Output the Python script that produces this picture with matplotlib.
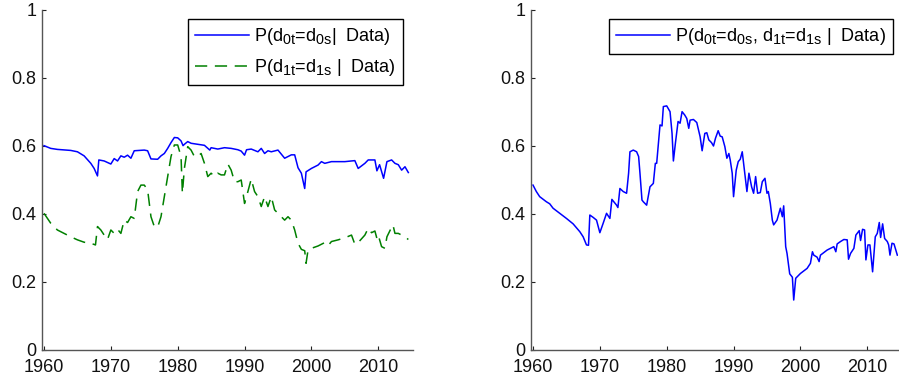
import matplotlib
matplotlib.use("Agg")
import matplotlib.pyplot as plt
try:
    import matplotlib._mathtext as _mt
    _mt.SHRINK_FACTOR = 0.8
    _mt.FontConstantsBase.sub1 = 0.35
    _mt.FontConstantsBase.sub2 = 0.55
except Exception:
    pass

plt.rcParams['font.family'] = ['Liberation Sans', 'DejaVu Sans']
plt.rcParams['mathtext.default'] = 'regular'

# ---- Left panel: P(d0t=d0s | Data) ----
yr_d0 = [1960, 1961, 1962, 1964, 1965, 1966, 1967, 1967.5, 1968, 1968.2, 1969, 1970, 1970.5, 1971,
         1971.5, 1972, 1972.5, 1973, 1973.5, 1975, 1975.5, 1976, 1977, 1977.5, 1978, 1978.5, 1979,
         1979.5, 1980, 1980.5, 1980.8, 1981, 1981.5, 1982, 1983, 1984, 1984.8, 1985, 1986, 1987,
         1988, 1989, 1989.5, 1990, 1990.3, 1991, 1992, 1992.5, 1993, 1993.5, 1994, 1995, 1995.5,
         1996, 1997, 1997.5, 1998, 1998.5, 1999, 1999.2, 2000, 2001, 2001.5, 2002, 2003, 2005,
         2006.5, 2007, 2008, 2008.5, 2009.5, 2009.8, 2010.2, 2010.8, 2011.3, 2012, 2012.5, 2013,
         2013.5, 2014, 2014.5]
p_d0 = [0.601, 0.593, 0.590, 0.587, 0.583, 0.571, 0.549, 0.534, 0.512, 0.559, 0.556, 0.547, 0.563,
        0.556, 0.571, 0.567, 0.573, 0.564, 0.586, 0.588, 0.586, 0.562, 0.561, 0.571, 0.578, 0.593,
        0.610, 0.625, 0.624, 0.615, 0.601, 0.605, 0.613, 0.608, 0.605, 0.602, 0.588, 0.595, 0.591,
        0.595, 0.593, 0.589, 0.585, 0.573, 0.589, 0.591, 0.583, 0.593, 0.578, 0.586, 0.583, 0.588,
        0.576, 0.564, 0.574, 0.574, 0.536, 0.520, 0.475, 0.524, 0.534, 0.544, 0.554, 0.549, 0.554,
        0.554, 0.557, 0.534, 0.549, 0.559, 0.559, 0.527, 0.545, 0.505, 0.554, 0.559, 0.549, 0.545,
        0.529, 0.539, 0.522]

# ---- Left panel: P(d1t=d1s | Data) ----
yr_d1 = [1960, 1961, 1962, 1963, 1964, 1965, 1966, 1967, 1967.7, 1968, 1968.5, 1969, 1969.5, 1970,
         1970.5, 1971, 1971.5, 1972, 1972.5, 1973, 1973.5, 1974, 1974.5, 1975, 1975.5, 1976,
         1976.5, 1977, 1977.5, 1978, 1978.5, 1979, 1979.5, 1980, 1980.5, 1980.7, 1981, 1981.5,
         1982, 1982.5, 1983, 1983.5, 1984, 1984.5, 1985, 1985.5, 1986, 1986.5, 1987, 1987.5,
         1988, 1988.5, 1989, 1989.5, 1990, 1990.5, 1991, 1991.5, 1992, 1992.5, 1993, 1993.5,
         1994, 1994.5, 1995, 1995.5, 1996, 1996.5, 1997, 1997.5, 1998, 1998.5, 1999, 1999.2,
         1999.5, 2000, 2001, 2002, 2002.5, 2003, 2004, 2005, 2006, 2006.5, 2007, 2008, 2008.5,
         2009, 2009.5, 2009.8, 2010, 2010.5, 2011, 2011.3, 2011.8, 2012.2, 2012.5, 2013, 2013.5,
         2014, 2014.5]
p_d1 = [0.402, 0.373, 0.353, 0.343, 0.333, 0.324, 0.317, 0.314, 0.309, 0.363, 0.353, 0.338, 0.325,
        0.353, 0.343, 0.355, 0.343, 0.382, 0.375, 0.392, 0.387, 0.466, 0.485, 0.485, 0.471, 0.392,
        0.363, 0.361, 0.392, 0.451, 0.510, 0.569, 0.603, 0.603, 0.569, 0.461, 0.534, 0.598, 0.588,
        0.569, 0.569, 0.578, 0.549, 0.510, 0.520, 0.510, 0.520, 0.515, 0.515, 0.547, 0.529, 0.495,
        0.495, 0.500, 0.431, 0.466, 0.503, 0.466, 0.451, 0.422, 0.451, 0.422, 0.451, 0.412, 0.402,
        0.392, 0.382, 0.392, 0.382, 0.353, 0.314, 0.296, 0.292, 0.255, 0.294, 0.299, 0.306, 0.316,
        0.307, 0.319, 0.324, 0.330, 0.338, 0.311, 0.316, 0.338, 0.358, 0.345, 0.350, 0.328, 0.338,
        0.304, 0.299, 0.333, 0.353, 0.368, 0.343, 0.343, 0.338, 0.333, 0.325]

# ---- Right panel: P(d0t=d0s, d1t=d1s | Data) ----
yr_joint = [1960, 1960.5, 1961, 1962, 1962.5, 1963, 1964, 1965, 1966, 1967, 1967.5, 1968, 1968.3,
            1968.5, 1969, 1969.5, 1970, 1970.5, 1971, 1971.5, 1971.8, 1972.5, 1972.7, 1973, 1973.5,
            1974, 1974.3, 1974.5, 1975, 1975.5, 1975.8, 1976, 1976.3, 1976.5, 1977, 1977.5, 1978,
            1978.3, 1978.5, 1979, 1979.3, 1979.5, 1980, 1980.5, 1980.8, 1981, 1981.3, 1981.7, 1982,
            1982.3, 1982.7, 1983, 1983.3, 1983.5, 1984, 1984.5, 1985, 1985.3, 1985.7, 1986, 1986.3,
            1986.7, 1987, 1987.3, 1987.7, 1988, 1988.3, 1988.7, 1989, 1989.3, 1989.5, 1989.8, 1990,
            1990.4, 1990.7, 1991, 1991.3, 1991.6, 1992, 1992.3, 1992.7, 1993, 1993.3, 1993.6, 1994,
            1994.3, 1994.7, 1995, 1995.2, 1995.5, 1995.8, 1996, 1996.5, 1997, 1997.3, 1997.5,
            1997.8, 1998, 1998.4, 1998.8, 1999, 1999.3, 2000, 2001, 2001.5, 2001.8, 2002, 2002.5,
            2002.8, 2003, 2004, 2005, 2005.3, 2005.5, 2006, 2006.5, 2007, 2007.2, 2007.5, 2008,
            2008.3, 2008.8, 2009, 2009.3, 2009.6, 2009.8, 2010.1, 2010.4, 2010.8, 2011.2, 2011.5,
            2011.8, 2012, 2012.3, 2012.6, 2013, 2013.2, 2013.4, 2013.7, 2014, 2014.5]
p_joint = [0.485, 0.466, 0.451, 0.436, 0.430, 0.417, 0.402, 0.387, 0.371, 0.348, 0.333, 0.309,
           0.308, 0.397, 0.390, 0.382, 0.345, 0.373, 0.402, 0.387, 0.443, 0.426, 0.419, 0.475,
           0.466, 0.461, 0.520, 0.583, 0.588, 0.583, 0.569, 0.520, 0.441, 0.436, 0.426, 0.480,
           0.490, 0.549, 0.549, 0.662, 0.659, 0.716, 0.718, 0.701, 0.637, 0.556, 0.608, 0.672,
           0.667, 0.701, 0.691, 0.681, 0.652, 0.676, 0.678, 0.669, 0.627, 0.586, 0.637, 0.639,
           0.618, 0.610, 0.600, 0.623, 0.645, 0.629, 0.627, 0.598, 0.564, 0.578, 0.559, 0.520,
           0.451, 0.529, 0.554, 0.561, 0.583, 0.534, 0.466, 0.520, 0.480, 0.461, 0.510, 0.461,
           0.463, 0.495, 0.505, 0.461, 0.466, 0.431, 0.382, 0.368, 0.382, 0.417, 0.392, 0.424,
           0.304, 0.284, 0.224, 0.214, 0.147, 0.211, 0.225, 0.240, 0.255, 0.289, 0.279, 0.273,
           0.260, 0.279, 0.294, 0.304, 0.289, 0.312, 0.319, 0.325, 0.324, 0.267, 0.284, 0.299,
           0.338, 0.351, 0.322, 0.355, 0.353, 0.265, 0.309, 0.309, 0.230, 0.333, 0.343, 0.375,
           0.331, 0.371, 0.328, 0.319, 0.309, 0.279, 0.314, 0.312, 0.279]

x_ticks = [1960, 1970, 1980, 1990, 2000, 2010]
y_ticks = [0, 0.2, 0.4, 0.6, 0.8, 1]
y_ticklabels = ['0', '0.2', '0.4', '0.6', '0.8', '1']

label_d0 = 'P(d$_{0t}$=d$_{0s}$|  Data)'
label_d1 = 'P(d$_{1t}$=d$_{1s}$ |  Data)'
label_joint = 'P(d$_{0t}$=d$_{0s}$, d$_{1t}$=d$_{1s}$ |  Data)'

fig = plt.figure(figsize=(8.99, 3.81), dpi=100)
axL = fig.add_axes([42/899, 1-350/381, 371/899, 340/381])
axR = fig.add_axes([531/899, 1-350/381, 367/899, 340/381])

axL.plot(yr_d0, p_d0, color='#0000ff', lw=1.1, label=label_d0)
axL.plot(yr_d1, p_d1, color='#008000', lw=1.1, dashes=(8, 5), label=label_d1)
axR.plot(yr_joint, p_joint, color='#0000ff', lw=1.1, label=label_joint)

spine_col = '#555555'
for ax, xl in ((axL, (1959.7, 2015.2)), (axR, (1959.7, 2014.6))):
    ax.set_xlim(*xl)
    ax.set_ylim(0, 1)
    ax.set_xticks(x_ticks)
    ax.set_yticks(y_ticks)
    ax.set_yticklabels(y_ticklabels)
    ax.spines['top'].set_visible(False)
    ax.spines['right'].set_visible(False)
    for s in ('left', 'bottom'):
        ax.spines[s].set_color(spine_col)
        ax.spines[s].set_linewidth(1.0)
    ax.tick_params(direction='in', length=3, width=0.8, color='#222222',
                   labelsize=13, labelcolor='#111111')
    ax.tick_params(axis='x', pad=6.5)
    ax.tick_params(axis='y', pad=4)

leg_kw = dict(loc='upper right', borderaxespad=0, fancybox=False, edgecolor='black',
              framealpha=1, fontsize=13, handlelength=3.0, handletextpad=0.25,
              labelspacing=0.55, borderpad=0.4)
legL = axL.legend(bbox_to_anchor=(0.973, 0.974), **leg_kw)
legR = axR.legend(bbox_to_anchor=(0.986, 0.974), **leg_kw)
for leg in (legL, legR):
    leg.get_frame().set_linewidth(1.0)

fig.savefig('out.png', dpi=100)
